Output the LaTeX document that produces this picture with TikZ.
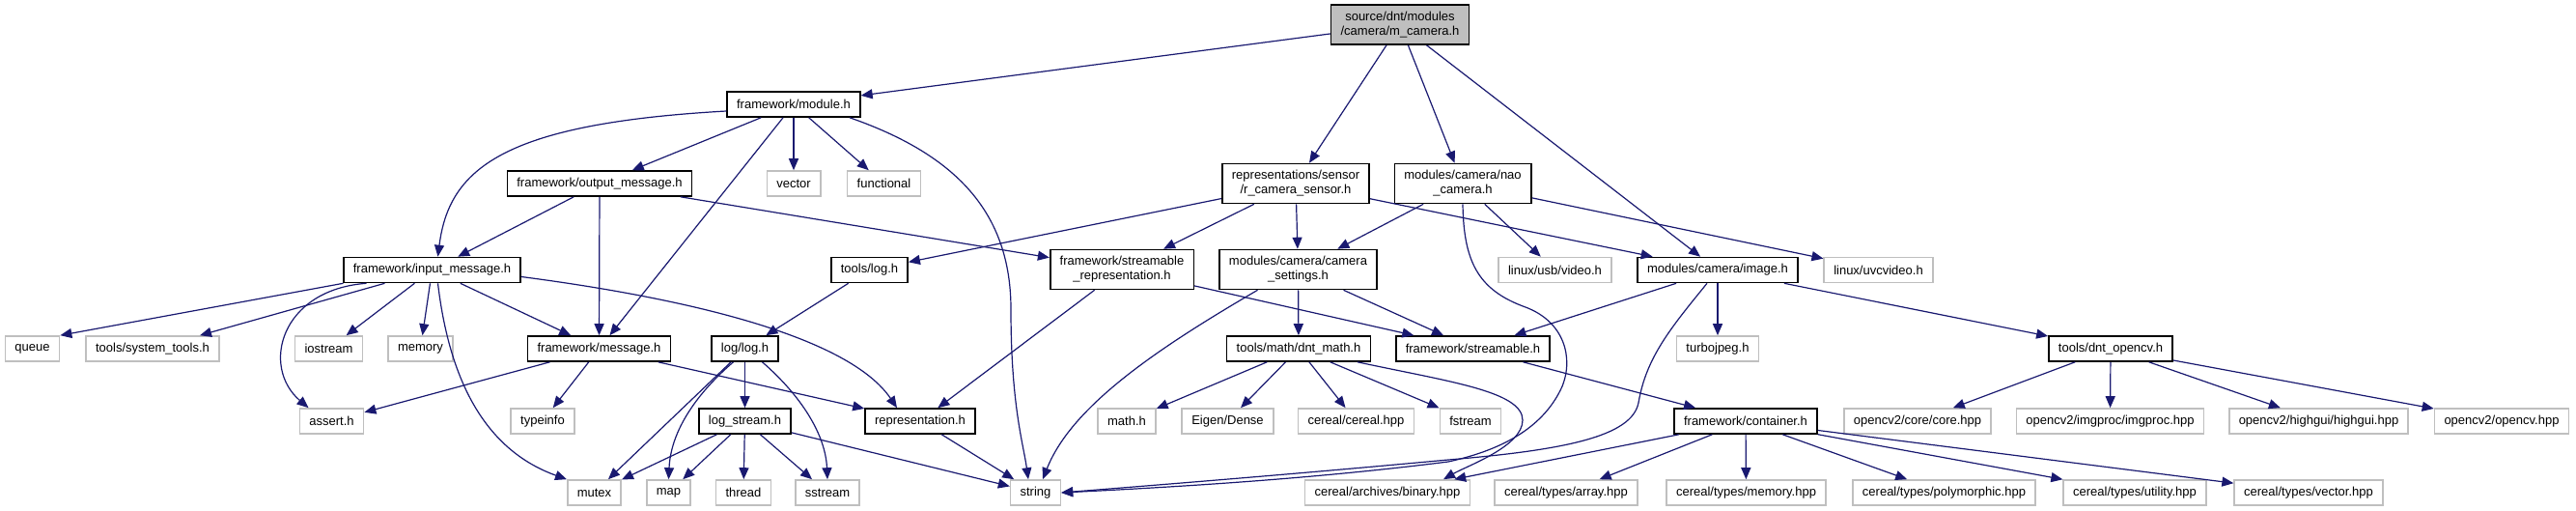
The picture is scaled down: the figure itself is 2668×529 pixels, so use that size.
\documentclass[tikz,border=0pt]{standalone}
\usepackage{fontspec}
\setmainfont{Liberation Sans}
\usetikzlibrary{arrows.meta}

\definecolor{edgeblue}{HTML}{191970}
\definecolor{extgrey}{HTML}{BFBFBF}

\tikzset{
  file/.style={draw=black, line width=0.8pt, fill=white, inner xsep=5pt, inner ysep=1pt,
    minimum height=13pt, align=center, font=\fontsize{6.5}{7.5}\selectfont},
  sysfile/.style={file, draw=extgrey},
  twoline/.style={minimum height=20.5pt},
  topfile/.style={file, twoline, fill=extgrey},
  dep/.style={draw=edgeblue, line width=0.6pt, -{Triangle[length=6pt,width=5pt]}},
}

\begin{document}
\begin{tikzpicture}[x=0.5pt, y=-0.5pt]
    \useasboundingbox (0,0) rectangle (2668,529);
    % the header and what it pulls in
    \node[topfile] (cam) at (1450,25.5) {source/dnt/modules\\/camera/m\_camera.h};
    \node[file] (modh) at (822,108) {framework/module.h};
    \node[file] (outmsg) at (621,190) {framework/output\_message.h};
    \node[sysfile] (vec) at (822,190) {vector};
    \node[sysfile] (func) at (915.5,190) {functional};
    \node[file, twoline] (sensor) at (1342,190) {representations/sensor\\/r\_camera\_sensor.h};
    \node[file, twoline] (nao) at (1515,190) {modules/camera/nao\\\_camera.h};
    % third row
    \node[file] (inmsg) at (447.5,279.5) {framework/input\_message.h};
    \node[file] (tlog) at (900.5,279.5) {tools/log.h};
    \node[file, twoline] (strrep) at (1162,279) {framework/streamable\\\_representation.h};
    \node[file, twoline] (camset) at (1344.5,279) {modules/camera/camera\\\_settings.h};
    \node[sysfile] (usbvid) at (1610.5,279.5) {linux/usb/video.h};
    \node[file] (image) at (1779,279.5) {modules/camera/image.h};
    \node[sysfile] (uvc) at (1945.5,279.5) {linux/uvcvideo.h};
    % fourth row
    \node[sysfile] (queue) at (33.5,361) {queue};
    \node[sysfile] (systools) at (158,361) {tools/system\_tools.h};
    \node[sysfile] (iostr) at (340.5,361) {iostream};
    \node[sysfile] (memory) at (435.5,361) {memory};
    \node[file] (msg) at (620.5,361) {framework/message.h};
    \node[file] (loglog) at (771.5,361) {log/log.h};
    \node[file] (mathdnt) at (1345,361) {tools/math/dnt\_math.h};
    \node[file] (streamable) at (1525.5,361) {framework/streamable.h};
    \node[sysfile] (turbo) at (1779,361) {turbojpeg.h};
    \node[file] (opencv) at (2186,361) {tools/dnt\_opencv.h};
    % fifth row
    \node[sysfile] (assert) at (343.5,436) {assert.h};
    \node[sysfile] (typeinfo) at (562,436) {typeinfo};
    \node[file] (logstream) at (771.5,436) {log\_stream.h};
    \node[file] (repr) at (953,436) {representation.h};
    \node[sysfile] (mathh) at (1167,436) {math.h};
    \node[sysfile] (eigen) at (1271.5,436) {Eigen/Dense};
    \node[sysfile] (cerealh) at (1404.5,436) {cereal/cereal.hpp};
    \node[sysfile] (fstream) at (1523,436) {fstream};
    \node[file] (container) at (1808,436) {framework/container.h};
    \node[sysfile] (core) at (1986,436) {opencv2/core/core.hpp};
    \node[sysfile] (imgproc) at (2185.5,436) {opencv2/imgproc/imgproc.hpp};
    \node[sysfile] (highgui) at (2401.5,436) {opencv2/highgui/highgui.hpp};
    \node[sysfile] (cvall) at (2591,436) {opencv2/opencv.hpp};
    % bottom row
    \node[sysfile] (mutex) at (615.5,510) {mutex};
    \node[sysfile] (map) at (692.5,510) {map};
    \node[sysfile] (thread) at (770,510) {thread};
    \node[sysfile] (sstream) at (857,510) {sstream};
    \node[sysfile] (str) at (1072.5,510) {string};
    \node[sysfile] (binary) at (1437,510) {cereal/archives/binary.hpp};
    \node[sysfile] (tarray) at (1622,510) {cereal/types/array.hpp};
    \node[sysfile] (tmemory) at (1808.5,510) {cereal/types/memory.hpp};
    \node[sysfile] (tpoly) at (2013.5,510) {cereal/types/polymorphic.hpp};
    \node[sysfile] (tutil) at (2211,510) {cereal/types/utility.hpp};
    \node[sysfile] (tvector) at (2391,510) {cereal/types/vector.hpp};

    % m_camera.h
    \draw[dep] (cam) -- (modh);
    \draw[dep] (cam) -- (sensor);
    \draw[dep] (cam) -- (nao);
    \draw[dep] (cam) -- (image);
    % module.h
    \draw[dep] ([yshift=-3.5pt]modh.west) .. controls (520,128) and (465,175) .. ([xshift=3pt]inmsg.north);
    \draw[dep] (modh) -- (outmsg);
    \draw[dep] (modh) -- (msg);
    \draw[dep] (modh) -- (vec);
    \draw[dep] (modh) -- (func);
    \draw[dep] ([xshift=29pt]modh.south) .. controls (990,160) and (1047,220) .. (1047,320)
        .. controls (1047,420) and (1060,460) .. ([xshift=-3.75pt]str.north);
    % output_message.h
    \draw[dep] (outmsg) -- (inmsg);
    \draw[dep] (outmsg) -- (msg);
    \draw[dep] (outmsg) -- (strrep);
    % r_camera_sensor.h
    \draw[dep] (sensor) -- (tlog);
    \draw[dep] (sensor) -- (strrep);
    \draw[dep] (sensor) -- (camset);
    \draw[dep] (sensor) -- (image);
    % nao_camera.h
    \draw[dep] (nao) -- (camset);
    \draw[dep] (nao) -- (usbvid);
    \draw[dep] (nao) -- (uvc);
    \draw[dep] (nao.south) .. controls (1516,270) and (1530,300) .. (1580,318)
        .. controls (1620,333) and (1630,370) .. (1618,400)
        .. controls (1600,440) and (1560,465) .. (1500,478)
        .. controls (1350,497) and (1200,505) .. (str.east);
    % input_message.h
    \draw[dep] ([xshift=-46pt]inmsg.south) -- (queue.north east);
    \draw[dep] (inmsg) -- (systools);
    \draw[dep] ([xshift=-34pt]inmsg.south) .. controls (290,300) and (270,380) .. ([xshift=-12pt]assert.north);
    \draw[dep] (inmsg) -- (iostr);
    \draw[dep] (inmsg) -- (memory);
    \draw[dep] ([xshift=3pt]inmsg.south) .. controls (465,390) and (500,465) .. (mutex.north west);
    \draw[dep] (inmsg) -- (msg);
    \draw[dep] ([yshift=-3.5pt]inmsg.east) .. controls (720,310) and (880,350) .. ([xshift=-12pt]repr.north);
    % tools/log.h and log/log.h
    \draw[dep] (tlog) -- (loglog);
    \draw[dep] (loglog) -- (mutex);
    \draw[dep] ([xshift=-6pt]loglog.south) .. controls (730,400) and (695,440) .. (map.north);
    \draw[dep] (loglog) -- (logstream);
    \draw[dep] ([xshift=9pt]loglog.south) .. controls (830,410) and (855,450) .. (sstream.north);
    % log_stream.h
    \draw[dep] (logstream) -- (mutex);
    \draw[dep] (logstream) -- (map);
    \draw[dep] (logstream) -- (thread);
    \draw[dep] (logstream) -- (sstream);
    \draw[dep] (logstream) -- (str);
    % message.h
    \draw[dep] (msg) -- (assert);
    \draw[dep] (msg) -- (typeinfo);
    \draw[dep] (msg) -- (repr);
    % streamable_representation.h, representation.h
    \draw[dep] (strrep) -- (repr);
    \draw[dep] (strrep) -- (streamable);
    \draw[dep] (repr) -- (str);
    % camera_settings.h
    \draw[dep] ([xshift=-21pt]camset.south) .. controls (1200,360) and (1110,420) .. ([xshift=3.75pt]str.north);
    \draw[dep] (camset) -- (mathdnt);
    \draw[dep] (camset) -- (streamable);
    % dnt_math.h
    \draw[dep] (mathdnt) -- (mathh);
    \draw[dep] (mathdnt) -- (eigen);
    \draw[dep] (mathdnt) -- (cerealh);
    \draw[dep] (mathdnt) -- (fstream);
    \draw[dep] ([xshift=30.5pt]mathdnt.south) .. controls (1500,395) and (1577,405) .. (1577,435)
        .. controls (1577,462) and (1520,482) .. ([xshift=29pt]binary.north);
    % streamable.h, image.h
    \draw[dep] (streamable) -- (container);
    \draw[dep] (image) -- (streamable);
    \draw[dep] ([xshift=-5.5pt]image.south) .. controls (1730,340) and (1705,370) .. (1697,417)
        .. controls (1690,452) and (1620,466) .. (1500,476)
        .. controls (1350,490) and (1200,502) .. (str.east);
    \draw[dep] (image) -- (turbo);
    \draw[dep] (image) -- (opencv);
    % dnt_opencv.h
    \draw[dep] (opencv) -- (core);
    \draw[dep] (opencv) -- (imgproc);
    \draw[dep] (opencv) -- (highgui);
    \draw[dep] (opencv) -- (cvall);
    % container.h
    \draw[dep] (container) -- (binary);
    \draw[dep] (container) -- (tarray);
    \draw[dep] (container) -- (tmemory);
    \draw[dep] (container) -- (tpoly);
    \draw[dep] (container) -- (tutil);
    \draw[dep] (container) -- (tvector);
\end{tikzpicture}
\end{document}
